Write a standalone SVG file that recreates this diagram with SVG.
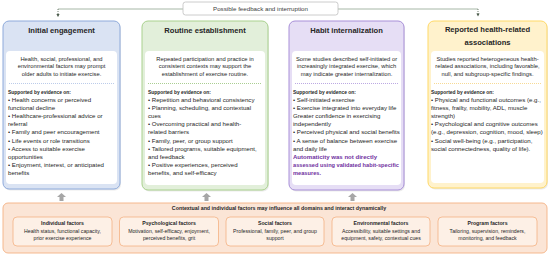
<svg xmlns="http://www.w3.org/2000/svg" width="550" height="257" viewBox="0 0 550 257">
<style>
text{font-family:"Liberation Sans",Arial,sans-serif;fill:#262626}
.title{font-size:7.6px;font-weight:bold;text-anchor:middle}
.intro{font-size:5.8px;text-anchor:middle}
.sup{font-size:6.1px;font-weight:bold}
.b{font-size:6.1px}
.pb{font-size:6.1px;font-weight:bold;fill:#7030a0}
.panel{fill:#ffffff}
.shadow{fill:#000;opacity:0.08}
.ctitle{font-size:5.3px;font-weight:bold;text-anchor:middle}
.st{font-size:5.2px;font-weight:bold;text-anchor:middle}
.sl{font-size:5.2px;text-anchor:middle}
.sub{fill:#fdf0e6;stroke:#f4b183;stroke-width:0.8}
.fb{font-size:6.2px;fill:#404040;text-anchor:middle}
.uparrow{fill:#a6a6a6}
.fline{fill:none;stroke:#8fa48f;stroke-width:0.8}
.fdot{fill:none;stroke:#4d5d4d;stroke-width:0.8;stroke-dasharray:1 1}
</style>
<defs>
<marker id="ah" viewBox="0 0 6 6" refX="3" refY="3" markerWidth="4" markerHeight="4" orient="auto">
<path d="M0,0 L6,3 L0,6 z" fill="#4d5d4d"/>
</marker>
</defs>

<g id="connectors">
<path class="fline" d="M183,9 H58"/>
<path class="fdot" d="M58,9 V15.5" marker-end="url(#ah)"/>
<path class="fline" d="M338,9 H478"/>
<path class="fdot" d="M478,9 V15" marker-end="url(#ah)"/>
<polygon class="uparrow" points="61.5,193 66,197 63.5,197 63.5,201 59.5,201 59.5,197 57,197"/>
<polygon class="uparrow" points="206.5,193 211,197 208.5,197 208.5,201 204.5,201 204.5,197 202,197"/>
<polygon class="uparrow" points="352.5,193 357,197 354.5,197 354.5,201 350.5,201 350.5,197 348,197"/>
</g>

<g id="feedback">
<rect x="183" y="2" width="155" height="13" rx="2.5" fill="#ffffff" stroke="#bfbfbf" stroke-width="0.8"/>
<text class="fb" x="260.5" y="10.8">Possible feedback and interruption</text>
</g>

<g id="initial-engagement">
<rect class="shadow" x="4" y="22.5" width="117" height="168" rx="6"/>
<rect x="3" y="21" width="117" height="168" rx="6" fill="#dae3f3" stroke="#8eaadb" stroke-width="1"/>
<rect class="panel" x="6" y="51" width="111" height="133" rx="4"/>
<text class="title" x="61.5" y="32.7">Initial engagement</text>
<text class="intro" x="61.5" y="60.5">Health, social, professional, and</text>
<text class="intro" x="61.5" y="68">environmental factors may prompt</text>
<text class="intro" x="61.5" y="75.5">older adults to initiate exercise.</text>
<line x1="9" y1="83.5" x2="114" y2="83.5" stroke="#8eaadb" stroke-width="0.6" stroke-dasharray="1 1"/>
<text class="sup" x="8" y="94" textLength="63" lengthAdjust="spacingAndGlyphs">Supported by evidence on:</text>
<text class="b" x="8" y="102">• Health concerns or perceived</text>
<text class="b" x="8" y="110.1">functional decline</text>
<text class="b" x="8" y="118.2">• Healthcare-professional advice or</text>
<text class="b" x="8" y="126.3">referral</text>
<text class="b" x="8" y="134.4">• Family and peer encouragement</text>
<text class="b" x="8" y="142.5">• Life events or role transitions</text>
<text class="b" x="8" y="150.6">• Access to suitable exercise</text>
<text class="b" x="8" y="158.7">opportunities</text>
<text class="b" x="8" y="166.8">• Enjoyment, interest, or anticipated</text>
<text class="b" x="8" y="174.9">benefits</text>
</g>

<g id="routine-establishment">
<rect class="shadow" x="143" y="22.5" width="126" height="169" rx="6"/>
<rect x="142" y="21" width="126" height="169" rx="6" fill="#e2efda" stroke="#a9d18e" stroke-width="1"/>
<rect class="panel" x="145" y="51" width="120" height="134" rx="4"/>
<text class="title" x="205" y="32.7">Routine establishment</text>
<text class="intro" x="205" y="60.5">Repeated participation and practice in</text>
<text class="intro" x="205" y="68">consistent contexts may support the</text>
<text class="intro" x="205" y="75.5">establishment of exercise routine.</text>
<line x1="148" y1="83.5" x2="262" y2="83.5" stroke="#70ad47" stroke-width="0.6" stroke-dasharray="1 1"/>
<text class="sup" x="148" y="94" textLength="63" lengthAdjust="spacingAndGlyphs">Supported by evidence on:</text>
<text class="b" x="148" y="102">• Repetition and behavioral consistency</text>
<text class="b" x="148" y="110.1">• Planning, scheduling, and contextual</text>
<text class="b" x="148" y="118.2">cues</text>
<text class="b" x="148" y="126.3">• Overcoming practical and health-</text>
<text class="b" x="148" y="134.4">related barriers</text>
<text class="b" x="148" y="142.5">• Family, peer, or group support</text>
<text class="b" x="148" y="150.6">• Tailored programs, suitable equipment,</text>
<text class="b" x="148" y="158.7">and feedback</text>
<text class="b" x="148" y="166.8">• Positive experiences, perceived</text>
<text class="b" x="148" y="174.9">benefits, and self-efficacy</text>
</g>

<g id="habit-internalization">
<rect class="shadow" x="290" y="22.5" width="115" height="169" rx="6"/>
<rect x="289" y="21" width="115" height="169" rx="6" fill="#e6def5" stroke="#a88fd8" stroke-width="1"/>
<rect class="panel" x="292" y="51" width="109" height="134" rx="4"/>
<text class="title" x="346.5" y="32.7">Habit internalization</text>
<text class="intro" x="346.5" y="60.5">Some studies described self-initiated or</text>
<text class="intro" x="346.5" y="68">increasingly integrated exercise, which</text>
<text class="intro" x="346.5" y="75.5">may indicate greater internalization.</text>
<line x1="295" y1="83.5" x2="398" y2="83.5" stroke="#8f6fd0" stroke-width="0.6" stroke-dasharray="1 1"/>
<text class="sup" x="293" y="94" textLength="63" lengthAdjust="spacingAndGlyphs">Supported by evidence on:</text>
<text class="b" x="293" y="102">• Self-initiated exercise</text>
<text class="b" x="293" y="110.1">• Exercise integrated into everyday life</text>
<text class="b" x="293" y="118.2">Greater confidence in exercising</text>
<text class="b" x="293" y="126.3">independently</text>
<text class="b" x="293" y="134.4">• Perceived physical and social benefits</text>
<text class="b" x="293" y="142.5">• A sense of balance between exercise</text>
<text class="b" x="293" y="150.6">and daily life</text>
<text class="pb" x="293" y="158.7" textLength="84" lengthAdjust="spacingAndGlyphs">Automaticity was not directly</text>
<text class="pb" x="293" y="166.8" textLength="106" lengthAdjust="spacingAndGlyphs">assessed using validated habit-specific</text>
<text class="pb" x="293" y="174.9" textLength="28" lengthAdjust="spacingAndGlyphs">measures.</text>
</g>

<g id="health-associations">
<rect class="shadow" x="429" y="22.5" width="119" height="167" rx="6"/>
<rect x="428" y="21" width="119" height="167" rx="6" fill="#fff2cc" stroke="#ffd966" stroke-width="1"/>
<rect class="panel" x="431" y="51" width="113" height="132" rx="4"/>
<text class="title" x="487.5" y="32">Reported health-related</text>
<text class="title" x="487.5" y="45">associations</text>
<text class="intro" x="487.5" y="60.5">Studies reported heterogeneous health-</text>
<text class="intro" x="487.5" y="68">related associations, including favorable,</text>
<text class="intro" x="487.5" y="75.5">null, and subgroup-specific findings.</text>
<line x1="434" y1="83.5" x2="541" y2="83.5" stroke="#f2c14e" stroke-width="0.6" stroke-dasharray="1 1"/>
<text class="sup" x="431" y="94" textLength="63" lengthAdjust="spacingAndGlyphs">Supported by evidence on:</text>
<text class="b" x="431" y="102">• Physical and functional outcomes (e.g.,</text>
<text class="b" x="431" y="110.1">fitness, frailty, mobility, ADL, muscle</text>
<text class="b" x="431" y="118.2">strength)</text>
<text class="b" x="431" y="126.3">• Psychological and cognitive outcomes</text>
<text class="b" x="431" y="134.4">(e.g., depression, cognition, mood, sleep)</text>
<text class="b" x="431" y="142.5">• Social well-being (e.g., participation,</text>
<text class="b" x="431" y="150.6">social connectedness, quality of life).</text>
</g>

<g id="contextual-factors">
<rect x="3" y="203" width="544" height="50" rx="5" fill="#fbe5d6" stroke="#f4b183" stroke-width="0.9"/>
<text class="ctitle" x="279" y="210">Contextual and individual factors may influence all domains and interact dynamically</text>
</g>

<g id="individual-factors">
<rect class="sub" x="13" y="217" width="99" height="29" rx="4"/>
<text class="st" x="62.5" y="225">Individual factors</text>
<text class="sl" x="62.5" y="232.8">Health status, functional capacity,</text>
<text class="sl" x="62.5" y="240.3">prior exercise experience</text>
</g>

<g id="psychological-factors">
<rect class="sub" x="119.5" y="217" width="99" height="29" rx="4"/>
<text class="st" x="169" y="225">Psychological factors</text>
<text class="sl" x="169" y="232.8">Motivation, self-efficacy, enjoyment,</text>
<text class="sl" x="169" y="240.3">perceived benefits, grit</text>
</g>

<g id="social-factors">
<rect class="sub" x="226" y="217" width="98" height="29" rx="4"/>
<text class="st" x="275" y="225">Social factors</text>
<text class="sl" x="275" y="232.8">Professional, family, peer, and group</text>
<text class="sl" x="275" y="240.3">support</text>
</g>

<g id="environmental-factors">
<rect class="sub" x="332" y="217" width="98" height="29" rx="4"/>
<text class="st" x="381" y="225">Environmental factors</text>
<text class="sl" x="381" y="232.8">Accessibility, suitable settings and</text>
<text class="sl" x="381" y="240.3">equipment, safety, contextual cues</text>
</g>

<g id="program-factors">
<rect class="sub" x="438" y="217" width="99" height="29" rx="4"/>
<text class="st" x="487.5" y="225">Program factors</text>
<text class="sl" x="487.5" y="232.8">Tailoring, supervision, reminders,</text>
<text class="sl" x="487.5" y="240.3">monitoring, and feedback</text>
</g>
</svg>
